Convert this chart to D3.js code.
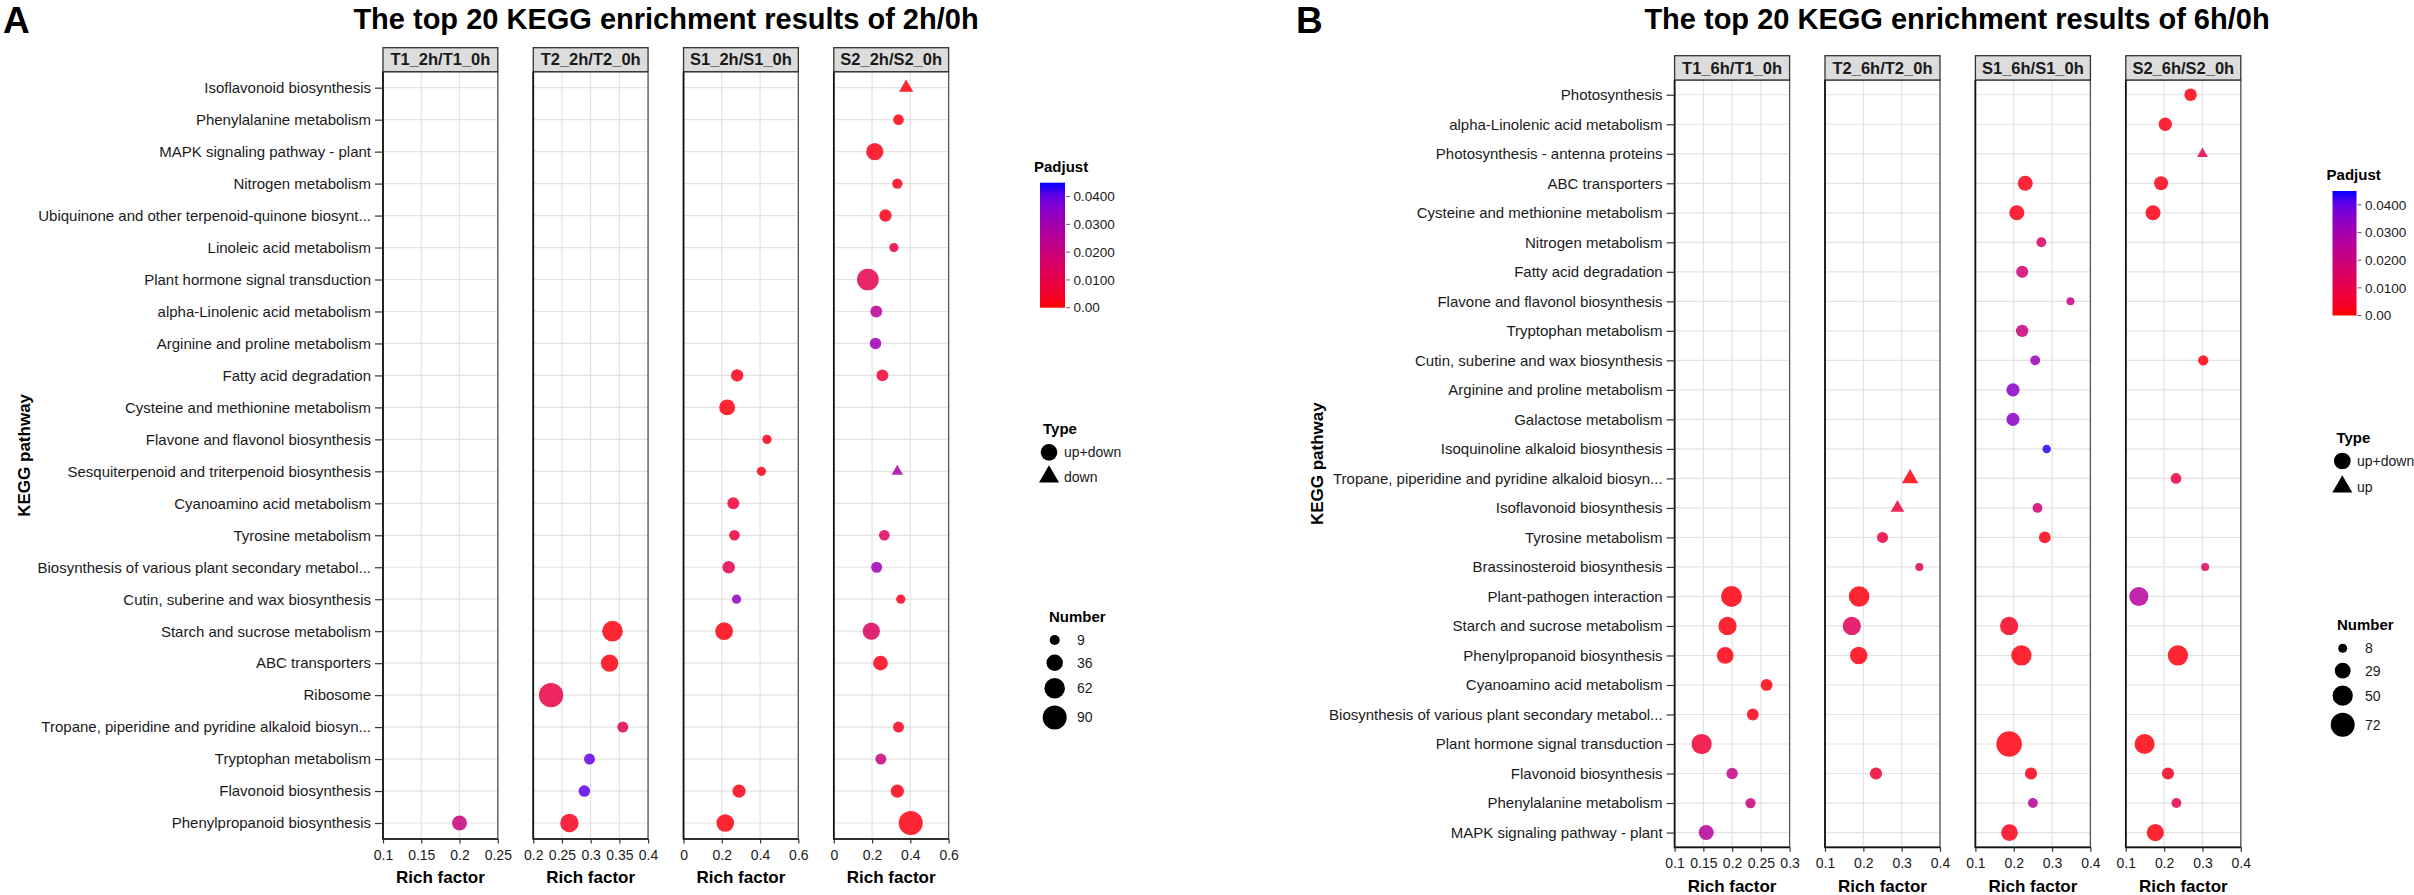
<!DOCTYPE html>
<html><head><meta charset="utf-8">
<script src="https://cdn.jsdelivr.net/npm/d3@7"></script>
<style>body{margin:0;background:#fff;} svg{display:block;}</style>
</head><body><svg id="chart" width="2414" height="895"></svg>
<script>
// ---------------- DATA ----------------
const pathwaysA = [
  "Isoflavonoid biosynthesis","Phenylalanine metabolism","MAPK signaling pathway - plant","Nitrogen metabolism",
  "Ubiquinone and other terpenoid-quinone biosynt...","Linoleic acid metabolism","Plant hormone signal transduction",
  "alpha-Linolenic acid metabolism","Arginine and proline metabolism","Fatty acid degradation",
  "Cysteine and methionine metabolism","Flavone and flavonol biosynthesis","Sesquiterpenoid and triterpenoid biosynthesis",
  "Cyanoamino acid metabolism","Tyrosine metabolism","Biosynthesis of various plant secondary metabol...",
  "Cutin, suberine and wax biosynthesis","Starch and sucrose metabolism","ABC transporters","Ribosome",
  "Tropane, piperidine and pyridine alkaloid biosyn...","Tryptophan metabolism","Flavonoid biosynthesis",
  "Phenylpropanoid biosynthesis"];
const facetsA = ["T1_2h/T1_0h","T2_2h/T2_0h","S1_2h/S1_0h","S2_2h/S2_0h"];
const richDomainsA = [[0.1,0.25],[0.2,0.4],[0,0.6],[0,0.6]];
const richTicksA = [[0.1,0.15,0.2,0.25],[0.2,0.25,0.3,0.35,0.4],[0,0.2,0.4,0.6],[0,0.2,0.4,0.6]];
const typesA = ["up+down","down"];
const numberBreaksA = [9,36,62,90];

// [pathway, rich factor, number, padjust, type]
const pointsA_T1 = [
  ["Phenylpropanoid biosynthesis",0.200,28,0.020,"up+down"]];
const pointsA_T2 = [
  ["Starch and sucrose metabolism",0.338,63,0.001,"up+down"],
  ["ABC transporters",0.333,41,0.001,"up+down"],
  ["Ribosome",0.231,92,0.009,"up+down"],
  ["Tropane, piperidine and pyridine alkaloid biosyn...",0.356,12,0.012,"up+down"],
  ["Tryptophan metabolism",0.298,12,0.040,"up+down"],
  ["Flavonoid biosynthesis",0.289,14,0.041,"up+down"],
  ["Phenylpropanoid biosynthesis",0.263,47,0.003,"up+down"]];
const pointsA_S1 = [
  ["Fatty acid degradation",0.280,17,0.002,"up+down"],
  ["Cysteine and methionine metabolism",0.228,33,0.001,"up+down"],
  ["Flavone and flavonol biosynthesis",0.436,7,0.002,"up+down"],
  ["Sesquiterpenoid and triterpenoid biosynthesis",0.407,7,0.002,"up+down"],
  ["Cyanoamino acid metabolism",0.260,15,0.006,"up+down"],
  ["Tyrosine metabolism",0.266,11,0.007,"up+down"],
  ["Biosynthesis of various plant secondary metabol...",0.236,17,0.011,"up+down"],
  ["Cutin, suberine and wax biosynthesis",0.277,7,0.033,"up+down"],
  ["Starch and sucrose metabolism",0.212,43,0.001,"up+down"],
  ["Flavonoid biosynthesis",0.290,20,0.002,"up+down"],
  ["Phenylpropanoid biosynthesis",0.218,43,0.001,"up+down"]];
const pointsA_S2 = [
  ["Isoflavonoid biosynthesis",0.378,15,0.001,"down"],
  ["Phenylalanine metabolism",0.338,11,0.001,"up+down"],
  ["MAPK signaling pathway - plant",0.214,40,0.002,"up+down"],
  ["Nitrogen metabolism",0.332,10,0.002,"up+down"],
  ["Ubiquinone and other terpenoid-quinone biosynt...",0.270,17,0.002,"up+down"],
  ["Linoleic acid metabolism",0.314,7,0.008,"up+down"],
  ["Plant hormone signal transduction",0.178,71,0.011,"up+down"],
  ["alpha-Linolenic acid metabolism",0.222,15,0.025,"up+down"],
  ["Arginine and proline metabolism",0.218,14,0.031,"up+down"],
  ["Fatty acid degradation",0.254,15,0.006,"up+down"],
  ["Sesquiterpenoid and triterpenoid biosynthesis",0.332,8,0.028,"down"],
  ["Tyrosine metabolism",0.264,11,0.013,"up+down"],
  ["Biosynthesis of various plant secondary metabol...",0.224,12,0.031,"up+down"],
  ["Cutin, suberine and wax biosynthesis",0.350,7,0.002,"up+down"],
  ["Starch and sucrose metabolism",0.196,40,0.014,"up+down"],
  ["ABC transporters",0.244,27,0.002,"up+down"],
  ["Tropane, piperidine and pyridine alkaloid biosyn...",0.338,12,0.003,"up+down"],
  ["Tryptophan metabolism",0.246,12,0.020,"up+down"],
  ["Flavonoid biosynthesis",0.332,20,0.002,"up+down"],
  ["Phenylpropanoid biosynthesis",0.402,90,0.001,"up+down"]];

const pathwaysB = [
  "Photosynthesis","alpha-Linolenic acid metabolism","Photosynthesis - antenna proteins","ABC transporters",
  "Cysteine and methionine metabolism","Nitrogen metabolism","Fatty acid degradation","Flavone and flavonol biosynthesis",
  "Tryptophan metabolism","Cutin, suberine and wax biosynthesis","Arginine and proline metabolism","Galactose metabolism",
  "Isoquinoline alkaloid biosynthesis","Tropane, piperidine and pyridine alkaloid biosyn...","Isoflavonoid biosynthesis",
  "Tyrosine metabolism","Brassinosteroid biosynthesis","Plant-pathogen interaction","Starch and sucrose metabolism",
  "Phenylpropanoid biosynthesis","Cyanoamino acid metabolism","Biosynthesis of various plant secondary metabol...",
  "Plant hormone signal transduction","Flavonoid biosynthesis","Phenylalanine metabolism","MAPK signaling pathway - plant"];
const facetsB = ["T1_6h/T1_0h","T2_6h/T2_0h","S1_6h/S1_0h","S2_6h/S2_0h"];
const richDomainsB = [[0.1,0.3],[0.1,0.4],[0.1,0.4],[0.1,0.4]];
const richTicksB = [[0.1,0.15,0.2,0.25,0.3],[0.1,0.2,0.3,0.4],[0.1,0.2,0.3,0.4],[0.1,0.2,0.3,0.4]];
const typesB = ["up+down","up"];
const numberBreaksB = [8,29,50,72];

const pointsB_T1 = [
  ["Plant-pathogen interaction",0.199,54,0.001,"up+down"],
  ["Starch and sucrose metabolism",0.192,40,0.001,"up+down"],
  ["Phenylpropanoid biosynthesis",0.188,33,0.001,"up+down"],
  ["Cyanoamino acid metabolism",0.260,15,0.001,"up+down"],
  ["Biosynthesis of various plant secondary metabol...",0.236,15,0.002,"up+down"],
  ["Plant hormone signal transduction",0.147,50,0.006,"up+down"],
  ["Flavonoid biosynthesis",0.200,14,0.022,"up+down"],
  ["Phenylalanine metabolism",0.232,11,0.020,"up+down"],
  ["MAPK signaling pathway - plant",0.155,26,0.026,"up+down"]];
const pointsB_T2 = [
  ["Tropane, piperidine and pyridine alkaloid biosyn...",0.322,21,0.001,"up"],
  ["Isoflavonoid biosynthesis",0.289,14,0.008,"up"],
  ["Tyrosine metabolism",0.250,13,0.008,"up+down"],
  ["Brassinosteroid biosynthesis",0.346,6,0.012,"up+down"],
  ["Plant-pathogen interaction",0.189,52,0.001,"up+down"],
  ["Starch and sucrose metabolism",0.170,40,0.013,"up+down"],
  ["Phenylpropanoid biosynthesis",0.188,36,0.001,"up+down"],
  ["Flavonoid biosynthesis",0.233,16,0.006,"up+down"]];
const pointsB_S1 = [
  ["ABC transporters",0.230,26,0.002,"up+down"],
  ["Cysteine and methionine metabolism",0.208,26,0.002,"up+down"],
  ["Nitrogen metabolism",0.272,10,0.016,"up+down"],
  ["Fatty acid degradation",0.222,16,0.018,"up+down"],
  ["Flavone and flavonol biosynthesis",0.348,6,0.022,"up+down"],
  ["Tryptophan metabolism",0.222,17,0.020,"up+down"],
  ["Cutin, suberine and wax biosynthesis",0.256,10,0.032,"up+down"],
  ["Arginine and proline metabolism",0.198,20,0.035,"up+down"],
  ["Galactose metabolism",0.198,19,0.035,"up+down"],
  ["Isoquinoline alkaloid biosynthesis",0.286,7,0.044,"up+down"],
  ["Isoflavonoid biosynthesis",0.262,10,0.018,"up+down"],
  ["Tyrosine metabolism",0.281,15,0.001,"up+down"],
  ["Starch and sucrose metabolism",0.188,40,0.003,"up+down"],
  ["Phenylpropanoid biosynthesis",0.220,50,0.001,"up+down"],
  ["Plant hormone signal transduction",0.188,82,0.001,"up+down"],
  ["Flavonoid biosynthesis",0.245,16,0.002,"up+down"],
  ["Phenylalanine metabolism",0.250,10,0.025,"up+down"],
  ["MAPK signaling pathway - plant",0.189,33,0.002,"up+down"]];
const pointsB_S2 = [
  ["Photosynthesis",0.269,17,0.001,"up+down"],
  ["alpha-Linolenic acid metabolism",0.203,20,0.002,"up+down"],
  ["Photosynthesis - antenna proteins",0.300,8,0.012,"up"],
  ["ABC transporters",0.192,22,0.002,"up+down"],
  ["Cysteine and methionine metabolism",0.171,26,0.002,"up+down"],
  ["Cutin, suberine and wax biosynthesis",0.302,11,0.001,"up+down"],
  ["Tropane, piperidine and pyridine alkaloid biosyn...",0.231,12,0.008,"up+down"],
  ["Brassinosteroid biosynthesis",0.307,6,0.013,"up+down"],
  ["Plant-pathogen interaction",0.134,44,0.026,"up+down"],
  ["Phenylpropanoid biosynthesis",0.236,50,0.001,"up+down"],
  ["Plant hormone signal transduction",0.149,49,0.001,"up+down"],
  ["Flavonoid biosynthesis",0.210,16,0.004,"up+down"],
  ["Phenylalanine metabolism",0.232,10,0.010,"up+down"],
  ["MAPK signaling pathway - plant",0.177,35,0.001,"up+down"]];

const padjTicks = [0,0.01,0.02,0.03,0.04];
const padjTickLabels = ["0.00","0.0100","0.0200","0.0300","0.0400"];
const padjMax = 0.045;

// ---------------- DRAWING ----------------
const FONT = "'Liberation Sans', Arial, Helvetica, sans-serif";
const svg = d3.select("#chart").attr("font-family", FONT);
svg.append("rect").attr("width",2414).attr("height",895).attr("fill","#fff");

const panelA = {letter:"A", title:"The top 20 KEGG enrichment results of 2h/0h", pathways:pathwaysA, facets:facetsA,
  richDomains:richDomainsA, richTicks:richTicksA, types:typesA, numberBreaks:numberBreaksA,
  points:[pointsA_T1,pointsA_T2,pointsA_S1,pointsA_S2]};
const panelB = {letter:"B", title:"The top 20 KEGG enrichment results of 6h/0h", pathways:pathwaysB, facets:facetsB,
  richDomains:richDomainsB, richTicks:richTicksB, types:typesB, numberBreaks:numberBreaksB,
  points:[pointsB_T1,pointsB_T2,pointsB_S1,pointsB_S2]};

const layoutA = {letterX:3, letterY:33.3, titleX:666, titleY:29,
  facetLeft:383, facetStep:150.27, facetWidth:114.8, stripTop:47.7, stripH:24, panelTop:71.7, panelBottom:839,
  yTitleX:24.5, sizeRange:[10,24],
  padjTitle:[1034,172], barX:1040, barW:25, barTop:182.7, barBottom:307.7, padjLabelX:1073.4,
  typeTitle:[1043,434], typeKeyX:1049, typeKeyY:[452.3,476.7], typeLabelX:1064,
  numTitle:[1049,622.3], numKeyX:1054.7, numFirstY:640, numLabelX:1077};
const layoutB = {letterX:1296, letterY:33.3, titleX:1957, titleY:29,
  facetLeft:1674.6, facetStep:150.4, facetWidth:115, stripTop:55.7, stripH:24.3, panelTop:80, panelBottom:847.3,
  yTitleX:1316.7, sizeRange:[9,24],
  padjTitle:[2326.6,180], barX:2332.5, barW:24, barTop:191, barBottom:315.5, padjLabelX:2365,
  typeTitle:[2336.4,442.7], typeKeyX:2342.3, typeKeyY:[461,486.7], typeLabelX:2357,
  numTitle:[2337,630], numKeyX:2342.7, numFirstY:648.3, numLabelX:2365};

const color = d3.scaleLinear().domain([0,padjMax]).range(["#ff0000","#0000ff"]).interpolate(d3.interpolateLab);

function markPath(type, dia) {
  return type === "up+down"
    ? d3.symbol(d3.symbolCircle, Math.PI*dia*dia/4)()
    : d3.symbol(d3.symbolTriangle, 0.6235*dia*dia)();
}

function drawPanel(D, L, idx) {
  const g = svg.append("g");
  const y = d3.scalePoint().domain(D.pathways).range([L.panelTop, L.panelBottom]).padding(0.5);
  const size = d3.scaleSqrt().domain(d3.extent(D.numberBreaks)).range(L.sizeRange);

  g.append("text").attr("x",L.letterX).attr("y",L.letterY).attr("font-size",37).attr("font-weight","bold")
    .attr("fill","#000").text(D.letter);
  g.append("text").attr("x",L.titleX).attr("y",L.titleY).attr("text-anchor","middle").attr("font-size",29)
    .attr("font-weight","bold").attr("fill","#000").text(D.title);

  D.facets.forEach((facet,i) => {
    const left = L.facetLeft + i*L.facetStep, right = left + L.facetWidth;
    const x = d3.scaleLinear().domain(D.richDomains[i]).range([left,right]);
    const fg = g.append("g");
    fg.selectAll("line.vg").data(D.richTicks[i]).join("line").attr("class","vg")
      .attr("x1",d=>x(d)).attr("x2",d=>x(d)).attr("y1",L.panelTop).attr("y2",L.panelBottom)
      .attr("stroke","#e3e3e3").attr("stroke-width",1.2);
    fg.selectAll("line.hg").data(D.pathways).join("line").attr("class","hg")
      .attr("x1",left).attr("x2",right).attr("y1",d=>y(d)).attr("y2",d=>y(d))
      .attr("stroke","#e3e3e3").attr("stroke-width",1.2);
    fg.selectAll("path.pt").data(D.points[i]).join("path").attr("class","pt")
      .attr("transform",d=>`translate(${x(d[1])},${y(d[0])})`)
      .attr("d",d=>markPath(d[4], size(d[2])))
      .attr("fill",d=>color(d[3])).attr("fill-opacity",0.85);
    fg.append("rect").attr("x",left).attr("y",L.panelTop).attr("width",L.facetWidth)
      .attr("height",L.panelBottom-L.panelTop).attr("fill","none").attr("stroke","#555").attr("stroke-width",1.3);
    fg.append("path").attr("d",`M${left},${L.panelTop}V${L.panelBottom}H${right}`)
      .attr("fill","none").attr("stroke","#111").attr("stroke-width",1.7);
    // strip
    fg.append("rect").attr("x",left).attr("y",L.stripTop).attr("width",L.facetWidth).attr("height",L.stripH)
      .attr("fill","#dcdcdc").attr("stroke","#333").attr("stroke-width",1.3);
    fg.append("text").attr("x",(left+right)/2).attr("y",L.stripTop+L.stripH/2).attr("dy","0.35em")
      .attr("text-anchor","middle").attr("font-size",16.5).attr("font-weight","bold").attr("fill","#1a1a1a").text(facet);
    // x axis
    const ax = fg.append("g").attr("transform",`translate(0,${L.panelBottom})`)
      .call(d3.axisBottom(x).tickValues(D.richTicks[i]).tickFormat(d3.format("~g")).tickSize(4.5).tickPadding(6.5));
    ax.attr("font-family",FONT).attr("font-size",14);
    ax.select(".domain").remove();
    ax.selectAll(".tick line").attr("stroke","#333").attr("stroke-width",1.2);
    ax.selectAll(".tick text").attr("fill","#1a1a1a");
    fg.append("text").attr("x",(left+right)/2).attr("y",L.panelBottom+44.4).attr("text-anchor","middle")
      .attr("font-size",17).attr("font-weight","bold").attr("fill","#000").text("Rich factor");
  });

  // y axis
  const ay = g.append("g").attr("transform",`translate(${L.facetLeft},0)`)
    .call(d3.axisLeft(y).tickSize(8).tickPadding(4));
  ay.attr("font-family",FONT).attr("font-size",15);
  ay.select(".domain").remove();
  ay.selectAll(".tick line").attr("stroke","#333").attr("stroke-width",1.2);
  ay.selectAll(".tick text").attr("fill","#1a1a1a");
  g.append("text").attr("transform",`translate(${L.yTitleX},${(L.panelTop+L.panelBottom)/2}) rotate(-90)`)
    .attr("text-anchor","middle").attr("dy","0.35em").attr("font-size",17).attr("font-weight","bold")
    .attr("fill","#000").text("KEGG pathway");

  // Padjust legend
  const gradId = "grad"+idx;
  const grad = svg.append("defs").append("linearGradient").attr("id",gradId)
    .attr("x1","0").attr("y1","1").attr("x2","0").attr("y2","0");
  grad.selectAll("stop").data(d3.range(0,1.0001,0.1)).join("stop")
    .attr("offset",d=>d).attr("stop-color",d=>color(d*padjMax));
  g.append("text").attr("x",L.padjTitle[0]).attr("y",L.padjTitle[1]).attr("font-size",15).attr("font-weight","bold")
    .attr("fill","#000").text("Padjust");
  g.append("rect").attr("x",L.barX).attr("y",L.barTop).attr("width",L.barW).attr("height",L.barBottom-L.barTop)
    .attr("fill",`url(#${gradId})`);
  const py = d3.scaleLinear().domain([0,padjMax]).range([L.barBottom,L.barTop]);
  g.selectAll("line.pt").data(padjTicks).join("line").attr("class","pt")
    .attr("x1",L.barX+L.barW+1).attr("x2",L.barX+L.barW+5).attr("y1",d=>py(d)).attr("y2",d=>py(d))
    .attr("stroke","#666").attr("stroke-width",1);
  g.selectAll("text.pl").data(padjTicks).join("text").attr("class","pl")
    .attr("x",L.padjLabelX).attr("y",d=>py(d)).attr("dy","0.35em").attr("font-size",13.5).attr("fill","#1a1a1a")
    .text((d,i)=>padjTickLabels[i]);

  // Type legend
  g.append("text").attr("x",L.typeTitle[0]).attr("y",L.typeTitle[1]).attr("font-size",15).attr("font-weight","bold")
    .attr("fill","#000").text("Type");
  D.types.forEach((t,i) => {
    g.append("path").attr("transform",`translate(${L.typeKeyX},${L.typeKeyY[i]})`)
      .attr("d",markPath(t,16.7)).attr("fill","#000");
    g.append("text").attr("x",L.typeLabelX).attr("y",L.typeKeyY[i]).attr("dy","0.35em").attr("font-size",14)
      .attr("fill","#1a1a1a").text(t);
  });

  // Number legend
  g.append("text").attr("x",L.numTitle[0]).attr("y",L.numTitle[1]).attr("font-size",15).attr("font-weight","bold")
    .attr("fill","#000").text("Number");
  let cy = L.numFirstY, prevH = null;
  D.numberBreaks.forEach((b) => {
    const dia = size(b), h = Math.max(22, dia+7);
    if (prevH !== null) cy += (prevH + h)/2;
    prevH = h;
    g.append("circle").attr("cx",L.numKeyX).attr("cy",cy).attr("r",dia/2).attr("fill","#000");
    g.append("text").attr("x",L.numLabelX).attr("y",cy).attr("dy","0.35em").attr("font-size",14)
      .attr("fill","#1a1a1a").text(b);
  });
}

drawPanel(panelA, layoutA, 0);
drawPanel(panelB, layoutB, 1);
</script>
</body></html>
